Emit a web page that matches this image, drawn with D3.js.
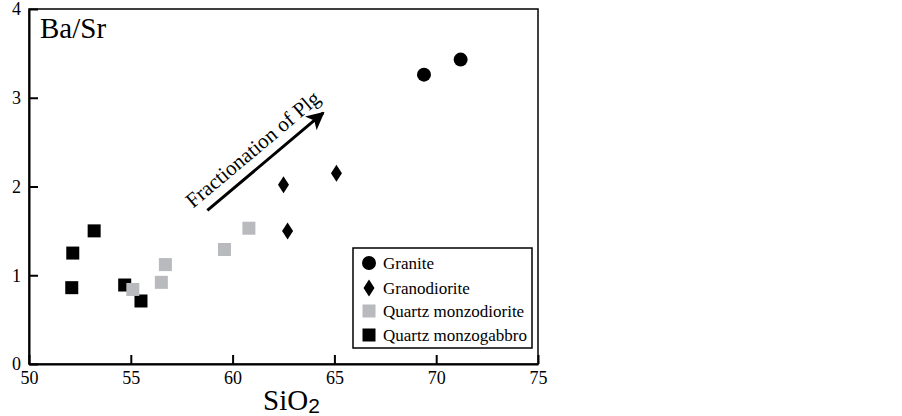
<!DOCTYPE html>
<html>
<head>
<meta charset="utf-8">
<script src="https://cdn.jsdelivr.net/npm/d3@7"></script>
<style>
	body {
		padding: 0;
		margin: 0;
		background: #fff;
	}
	text {
		font-family: "Liberation Serif", "Times New Roman", serif;
		fill: #000;
	}
	.axis path, .axis line {
		stroke: #000;
		stroke-width: 2;
	}
	.axis text {
		font-size: 18px;
	}
</style>
</head>
<body>
<div id="content"></div>
<script>

// Data (SiO2 wt%, Ba/Sr)
var graniteSiO2 = [69.4, 71.2];
var graniteBaSr = [3.26, 3.43];
var granodioriteSiO2 = [62.5, 65.1, 62.7];
var granodioriteBaSr = [2.02, 2.15, 1.50];
var qmdSiO2 = [55.1, 56.5, 56.7, 59.6, 60.8];
var qmdBaSr = [0.84, 0.92, 1.12, 1.29, 1.53];
var qmgSiO2 = [52.1, 52.15, 53.2, 54.7, 55.5];
var qmgBaSr = [0.86, 1.25, 1.50, 0.89, 0.71];

var xTicks = [50, 55, 60, 65, 70, 75];
var yTicks = [0, 1, 2, 3, 4];
var legendNames = ['Granite', 'Granodiorite', 'Quartz monzodiorite', 'Quartz monzogabbro'];

// arrow: start / end in data units
var arrowFrom = [58.76, 1.73];
var arrowTo = [64.45, 2.83];

var w = 902, h = 416;

var svg = d3.select('#content')
	.append('svg')
	.attr('width', w)
	.attr('height', h);

var x = d3.scaleLinear().domain([50, 75]).range([29, 538]);
var y = d3.scaleLinear().domain([0, 4]).range([364, 9]);

// Frame (top and right)
svg.append('rect')
	.attr('x', x(50))
	.attr('y', y(4))
	.attr('width', x(75) - x(50))
	.attr('height', y(0) - y(4))
	.attr('fill', 'none')
	.attr('stroke', '#000')
	.attr('stroke-width', 1.5);

// Axes with inward ticks; drop d3's default font attributes so the css applies
function plain(g) {
	g.attr('font-family', null).attr('font-size', null);
}

svg.append('g')
	.attr('class', 'axis')
	.attr('transform', 'translate(0,' + y(0) + ')')
	.call(d3.axisBottom(x).tickValues(xTicks).tickFormat(d3.format('d'))
		.tickSizeInner(-9).tickSizeOuter(0).tickPadding(7))
	.call(plain);

svg.append('g')
	.attr('class', 'axis')
	.attr('transform', 'translate(' + x(50) + ',0)')
	.call(d3.axisLeft(y).tickValues(yTicks).tickFormat(d3.format('d'))
		.tickSizeInner(-9).tickSizeOuter(0).tickPadding(8))
	.call(plain);

// Axis titles
svg.append('text')
	.attr('x', 40)
	.attr('y', 38)
	.style('font-size', '29px')
	.text('Ba/Sr');

var siTitle = svg.append('text')
	.attr('x', 263)
	.attr('y', 410)
	.style('font-size', '29px');
siTitle.append('tspan').text('SiO');
siTitle.append('tspan')
	.attr('dy', 3)
	.style('font-family', '"Liberation Sans", Arial, sans-serif')
	.style('font-size', '21px')
	.text('2');

// Symbols
var sq = 13;
var diamond = function(cx, cy, s) {
	var hw = 5.5 * s, hh = 8.5 * s;
	return 'M' + cx + ',' + (cy - hh) + 'L' + (cx + hw) + ',' + cy + 'L' + cx + ',' + (cy + hh) + 'L' + (cx - hw) + ',' + cy + 'Z';
};

// Quartz monzogabbro (black squares)
svg.selectAll('.qmg')
	.data(d3.zip(qmgSiO2, qmgBaSr))
	.enter().append('rect')
	.attr('x', d => x(d[0]) - sq / 2)
	.attr('y', d => y(d[1]) - sq / 2)
	.attr('width', sq)
	.attr('height', sq)
	.attr('fill', '#000');

// Quartz monzodiorite (grey squares)
svg.selectAll('.qmd')
	.data(d3.zip(qmdSiO2, qmdBaSr))
	.enter().append('rect')
	.attr('x', d => x(d[0]) - sq / 2)
	.attr('y', d => y(d[1]) - sq / 2)
	.attr('width', sq)
	.attr('height', sq)
	.attr('fill', '#b9babe');

// Granodiorite (diamonds)
svg.selectAll('.gd')
	.data(d3.zip(granodioriteSiO2, granodioriteBaSr))
	.enter().append('path')
	.attr('d', d => diamond(x(d[0]), y(d[1]), 1))
	.attr('fill', '#000');

// Granite (circles)
svg.selectAll('.gr')
	.data(d3.zip(graniteSiO2, graniteBaSr))
	.enter().append('circle')
	.attr('cx', d => x(d[0]))
	.attr('cy', d => y(d[1]))
	.attr('r', 7)
	.attr('fill', '#000');

// Arrow
svg.append('defs').append('marker')
	.attr('id', 'head')
	.attr('viewBox', '0 0 10 10')
	.attr('refX', 9)
	.attr('refY', 5)
	.attr('markerWidth', 6)
	.attr('markerHeight', 6)
	.attr('markerUnits', 'strokeWidth')
	.attr('orient', 'auto')
	.append('path')
	.attr('d', 'M0,0L10,5L0,10L2.5,5Z')
	.attr('fill', '#000');

var ax1 = x(arrowFrom[0]), ay1 = y(arrowFrom[1]);
var ax2 = x(arrowTo[0]), ay2 = y(arrowTo[1]);
svg.append('line')
	.attr('x1', ax1).attr('y1', ay1)
	.attr('x2', ax2).attr('y2', ay2)
	.attr('stroke', '#000')
	.attr('stroke-width', 3)
	.attr('marker-end', 'url(#head)');

var ang = Math.atan2(ay2 - ay1, ax2 - ax1) * 180 / Math.PI;
var mx = (ax1 + ax2) / 2 - 8, my = (ay1 + ay2) / 2 - 7;
svg.append('text')
	.attr('transform', 'translate(' + mx + ',' + my + ') rotate(' + ang + ')')
	.attr('text-anchor', 'middle')
	.style('font-size', '21px')
	.text('Fractionation of Plg');

// Legend
var legend = svg.append('g');
legend.append('rect')
	.attr('x', 353)
	.attr('y', 248)
	.attr('width', 179)
	.attr('height', 100)
	.attr('fill', '#fff')
	.attr('stroke', '#000')
	.attr('stroke-width', 1.5);

var lx = 369, ly = [263, 288, 311, 335];
legend.append('circle').attr('cx', lx).attr('cy', ly[0]).attr('r', 7).attr('fill', '#000');
legend.append('path').attr('d', diamond(lx, ly[1], 1)).attr('fill', '#000');
legend.append('rect').attr('x', lx - sq / 2).attr('y', ly[2] - sq / 2).attr('width', sq).attr('height', sq).attr('fill', '#b9babe');
legend.append('rect').attr('x', lx - sq / 2).attr('y', ly[3] - sq / 2).attr('width', sq).attr('height', sq).attr('fill', '#000');

legend.selectAll('.lt')
	.data(legendNames)
	.enter().append('text')
	.attr('x', 383)
	.attr('y', (d, i) => ly[i] + 6)
	.style('font-size', '17px')
	.text(d => d);

</script>
</body>
</html>
